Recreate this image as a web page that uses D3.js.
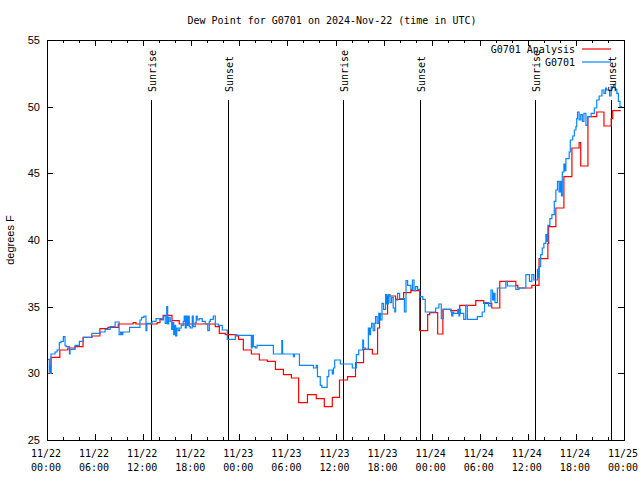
<!DOCTYPE html>
<html><head><meta charset="utf-8">
<script src="https://cdn.jsdelivr.net/npm/d3@7"></script>
<style>body{margin:0;background:#fff} svg{display:block}</style>
</head><body>
<svg id="c" width="640" height="480"></svg>
<script>
const chartTitle = "Dew Point for G0701 on 2024-Nov-22 (time in UTC)";
const yLabel = "degrees F";
const yTicks = [25, 30, 35, 40, 45, 50, 55];
const xMajorHours = [0, 6, 12, 18, 24, 30, 36, 42, 48, 54, 60, 66, 72];
const sunriseHours = [13.0, 36.9, 60.9];
const sunsetHours = [22.55, 46.5, 70.4];
const seriesNames = ["G0701 Analysis", "G0701"];

// [hours since 2024-11-22 00:00 UTC, dew point F]
const analysisSeries = [
[0,30.0],[0.5,31.2],[1.6,31.75],[2.6,31.9],[3.5,32.0],[4.5,32.7],[5.6,32.8],[6.6,33.35],
[7.6,33.45],[8.9,33.7],[10.75,33.8],[11.1,33.7],[13.75,33.8],[14.1,34.05],[14.5,34.35],
[15.6,33.95],[16.5,33.7],[21.0,33.5],[21.5,33.0],[22.25,32.9],[23.6,32.8],[23.9,32.55],
[24.5,31.75],[25.5,31.45],[26.5,31.0],[27.5,30.9],[28.5,30.3],[29.5,29.9],[30.5,29.65],
[31.4,27.8],[32.5,28.4],[33.6,28.1],[34.6,27.5],[35.6,28.2],[36.5,29.5],[37.5,29.75],
[38.5,30.8],[39.5,31.8],[40.6,31.45],[41.25,33.4],[41.5,34.45],[42.5,35.8],[43.5,35.55],
[44.5,36.05],[45.4,36.2],[46.5,33.2],[47.5,34.4],[47.75,34.55],[48.75,32.95],[49.4,34.8],
[50.4,34.7],[51.5,35.1],[53.5,35.45],[54.5,35.25],[55.5,34.9],[56.5,36.9],[58.5,36.6],
[58.75,36.4],[60.5,36.6],[61.4,38.6],[62.5,39.75],[62.6,41.0],[63.5,42.4],[64.5,44.75],
[65.5,46.9],[66.4,47.3],[66.6,45.55],[67.5,49.25],[68.6,49.6],[69.5,48.55],[70.4,49.1],
[70.6,49.7],[71.6,49.7]
];

const stationSeries = [
[0.0,31.05],[0.29,30.1],[0.375,30.6],[0.44,30.0],[0.5,31.45],[1.0,31.6],[1.25,31.75],
[1.54,32.3],[1.75,32.4],[2.04,32.75],[2.25,32.1],[2.375,32.0],[2.8,31.45],[2.875,31.8],
[3.5,32.1],[4.04,32.4],[4.54,32.7],[5.59,33.0],[6.625,33.1],[7.25,33.3],[7.875,33.5],
[8.5,33.85],[9.0,32.9],[9.19,33.1],[9.31,32.9],[9.46,33.1],[10.3,33.45],[11.6,34.0],
[11.8,34.2],[12.1,34.3],[12.35,33.2],[12.46,33.75],[13.1,33.9],[13.6,34.1],[14.3,34.0],
[14.5,34.3],[14.75,33.75],[14.94,35.0],[15.06,33.7],[15.19,34.2],[15.375,33.9],[15.56,33.3],
[15.69,33.8],[15.81,32.9],[15.94,33.6],[16.06,32.8],[16.19,33.4],[16.375,33.2],[16.56,33.4],
[16.75,33.6],[17.0,33.9],[17.125,34.3],[17.25,33.4],[17.375,34.3],[17.5,33.6],[17.625,34.3],
[17.75,33.5],[17.875,33.4],[18.125,34.3],[18.25,33.5],[18.5,33.8],[18.625,34.3],[18.75,34.0],
[19.0,34.1],[19.375,33.9],[19.75,33.7],[20.06,33.2],[20.25,33.9],[20.375,34.05],[20.75,34.3],
[21.0,33.7],[21.375,33.6],[21.875,33.25],[22.5,32.55],[23.5,32.9],[23.7,32.85],[25.5,31.9],
[25.6,32.85],[25.75,32.0],[26.0,31.9],[26.2,32.1],[28.25,31.45],[29.3,32.45],[29.4,31.45],
[30.75,31.25],[30.875,31.45],[31.5,30.6],[33.25,30.4],[33.6,30.6],[33.75,29.75],[34.1,29.1],
[34.3,28.95],[34.96,29.75],[35.16,30.25],[35.6,29.95],[35.75,30.4],[35.9,31.0],[36.6,30.7],
[38.1,30.4],[38.6,31.4],[38.9,31.75],[39.4,32.5],[39.5,31.9],[39.75,31.8],[40.1,33.4],
[40.25,32.9],[40.375,33.4],[40.5,33.75],[40.7,33.2],[40.9,33.75],[41.0,34.25],[41.2,33.75],
[41.4,34.5],[41.6,34.0],[41.8,35.25],[42.0,34.8],[42.25,35.9],[42.4,35.2],[42.6,35.9],
[42.8,35.3],[43.0,35.7],[43.2,34.9],[43.4,34.6],[43.5,35.5],[43.75,36.0],[44.0,35.6],
[44.6,34.6],[44.8,36.95],[45.0,36.6],[45.4,36.3],[45.6,37.0],[45.8,36.2],[46.0,36.5],
[46.25,36.3],[46.5,35.75],[46.9,35.55],[47.2,34.6],[48.5,34.9],[48.9,35.2],[49.2,34.1],
[49.45,34.8],[50.4,34.6],[50.5,34.3],[50.65,34.6],[50.75,34.5],[51.25,34.8],[51.4,34.3],
[51.5,34.8],[51.6,34.5],[52.0,34.05],[52.25,35.1],[52.45,34.05],[53.7,34.25],[54.3,34.6],
[54.6,35.3],[55.1,35.05],[55.4,36.25],[55.6,35.5],[55.75,36.0],[55.9,35.3],[56.2,36.4],
[57.25,36.9],[57.45,36.55],[58.5,36.3],[58.9,36.4],[59.75,37.4],[60.2,36.9],[60.5,37.4],
[60.75,37.0],[61.2,37.8],[61.35,37.2],[61.4,38.0],[61.6,38.9],[61.8,39.4],[62.0,39.75],
[62.25,40.4],[62.35,39.9],[62.5,41.1],[62.75,41.6],[63.0,41.9],[63.3,42.9],[63.5,43.75],
[63.7,44.4],[63.9,43.6],[64.06,44.4],[64.2,43.3],[64.3,45.1],[64.5,45.7],[64.65,45.2],
[64.75,46.1],[65.16,46.6],[65.3,47.5],[65.6,47.8],[65.8,48.25],[66.0,48.5],[66.1,49.1],
[66.2,49.6],[66.4,49.0],[66.6,49.4],[66.8,48.9],[67.0,49.5],[67.25,48.6],[67.46,49.25],
[67.9,49.5],[68.3,49.9],[68.6,50.5],[68.9,50.8],[69.25,51.25],[69.5,51.0],[69.7,51.4],
[69.8,51.25],[70.2,50.8],[70.4,51.5],[70.7,51.6],[70.9,51.3],[71.1,51.0],[71.3,50.4],
[71.5,50.0],[71.75,50.0]
];

const t0 = Date.UTC(2024, 10, 22);
const toDate = h => new Date(t0 + h * 3600e3);

const svg = d3.select("#c");
const L = 47, R = 624, T = 40, B = 440;
const x = d3.scaleUtc().domain([toDate(0), toDate(72)]).range([L, R]);
const y = d3.scaleLinear().domain([25, 55]).range([B, T]);
const mono = "'DejaVu Sans Mono', 'Liberation Mono', monospace";
const sans = "'Liberation Sans', Arial, sans-serif";
const px = v => Math.round(v) + 0.5;

// title
svg.append("text").attr("x", 332).attr("y", 24).attr("text-anchor", "middle")
  .style("font-family", mono).style("font-size", "10px").text(chartTitle);

// y axis label
svg.append("text").attr("transform", "translate(14,240) rotate(-90)").attr("text-anchor", "middle")
  .style("font-family", sans).style("font-size", "11px").text(yLabel);

const g = svg.append("g");

// ticks
const majors = xMajorHours.map(toDate);
const minors = d3.utcHour.every(2).range(toDate(0), toDate(72.01)).filter(d => d.getUTCHours() % 6 !== 0);
const tickG = g.append("g").attr("stroke", "#000").attr("stroke-width", 1).attr("shape-rendering", "crispEdges");
majors.forEach(d => {
  const xx = px(x(d));
  tickG.append("line").attr("x1", xx).attr("x2", xx).attr("y1", B).attr("y2", B - 6);
  tickG.append("line").attr("x1", xx).attr("x2", xx).attr("y1", T).attr("y2", T + 6);
});
minors.forEach(d => {
  const xx = px(x(d));
  tickG.append("line").attr("x1", xx).attr("x2", xx).attr("y1", B).attr("y2", B - 3);
  tickG.append("line").attr("x1", xx).attr("x2", xx).attr("y1", T).attr("y2", T + 3);
});
yTicks.forEach(v => {
  const yy = px(y(v));
  tickG.append("line").attr("x1", L).attr("x2", L + 6).attr("y1", yy).attr("y2", yy);
  tickG.append("line").attr("x1", R).attr("x2", R - 6).attr("y1", yy).attr("y2", yy);
  svg.append("text").attr("x", 40).attr("y", y(v) + 4).attr("text-anchor", "end")
    .style("font-family", sans).style("font-size", "11px").text(v);
});

// x tick labels
const fmtD = d3.utcFormat("%m/%d"), fmtT = d3.utcFormat("%H:%M");
majors.forEach(d => {
  const t = svg.append("text").attr("text-anchor", "middle")
    .style("font-family", mono).style("font-size", "10px");
  t.append("tspan").attr("x", x(d) - 1).attr("y", 457).text(fmtD(d));
  t.append("tspan").attr("x", x(d) - 1).attr("y", 471).text(fmtT(d));
});

// sunrise / sunset lines
const events = sunriseHours.map(h => ({h, name: "Sunrise"})).concat(sunsetHours.map(h => ({h, name: "Sunset"})));
events.forEach(e => {
  const xx = px(x(toDate(e.h)));
  g.append("line").attr("x1", xx).attr("x2", xx).attr("y1", B).attr("y2", 100)
    .attr("stroke", "#000").attr("stroke-width", 1.2).attr("shape-rendering", "crispEdges");
  svg.append("text").attr("transform", `translate(${xx + 4},92) rotate(-90)`)
    .style("font-family", mono).style("font-size", "10px").text(e.name);
});

// series
const line = d3.line().x(d => x(toDate(d[0]))).y(d => y(d[1])).curve(d3.curveStepAfter);
g.append("path").datum(analysisSeries).attr("d", line).attr("fill", "none")
  .attr("stroke", "#ff0000").attr("stroke-width", 1.2);
g.append("path").datum(stationSeries).attr("d", line).attr("fill", "none")
  .attr("stroke", "#0a84ff").attr("stroke-width", 1.2);

// border
g.append("rect").attr("x", L + 0.5).attr("y", T + 0.5).attr("width", R - L).attr("height", B - T)
  .attr("fill", "none").attr("stroke", "#000").attr("stroke-width", 1).attr("shape-rendering", "crispEdges");

// legend
const legendColors = ["#ff0000", "#0a84ff"];
seriesNames.forEach((n, i) => {
  const ly = 49 + i * 13;
  svg.append("text").attr("x", 575).attr("y", ly + 4).attr("text-anchor", "end")
    .style("font-family", mono).style("font-size", "10px").text(n);
  svg.append("line").attr("x1", 582).attr("x2", 611).attr("y1", ly).attr("y2", ly)
    .attr("stroke", legendColors[i]).attr("stroke-width", 1.2);
});
</script>
</body></html>
